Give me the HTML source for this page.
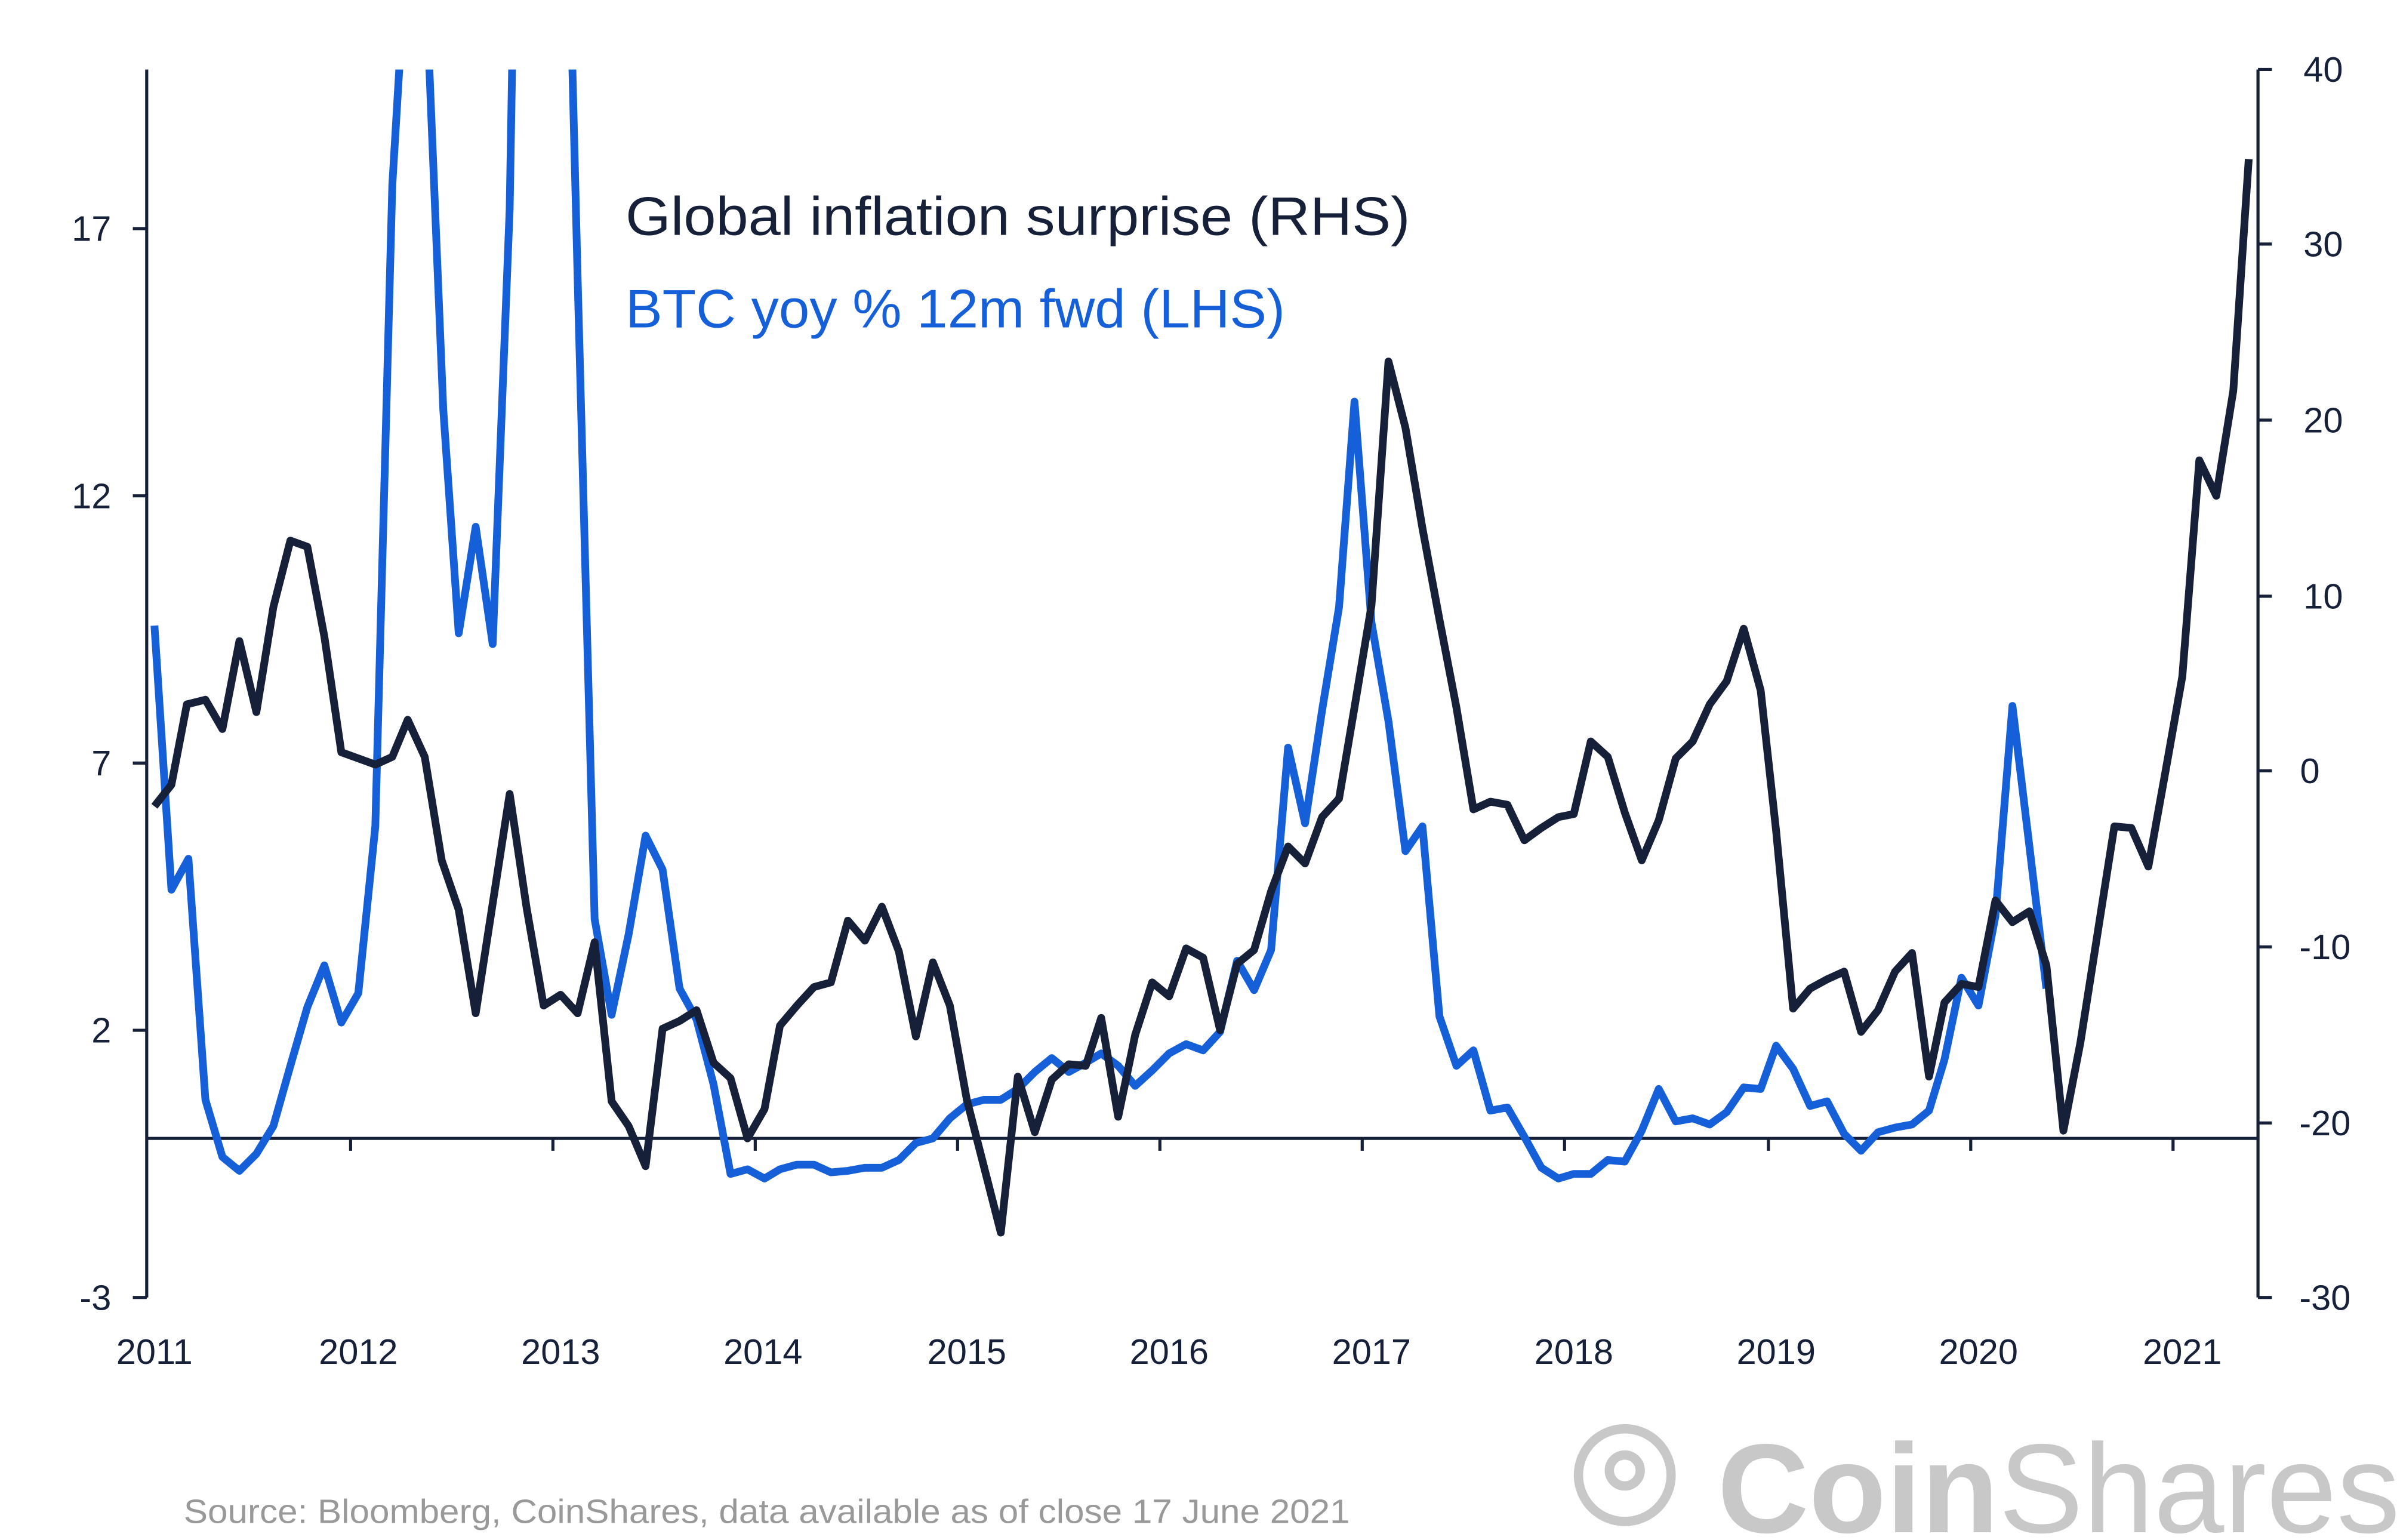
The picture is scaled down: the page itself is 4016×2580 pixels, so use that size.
<!DOCTYPE html>
<html><head><meta charset="utf-8"><style>
html,body{margin:0;padding:0;background:#fff;}
svg{display:block;}
text{font-family:"Liberation Sans",sans-serif;}
</style></head><body>
<svg width="4016" height="2580" viewBox="0 0 1552 997" preserveAspectRatio="none" xmlns="http://www.w3.org/2000/svg">
<defs><clipPath id="c"><rect x="90" y="45" width="1380" height="800"/></clipPath></defs>
<rect width="1552" height="997" fill="#fff"/>
<g stroke="#162039" stroke-width="2" fill="none">
<line x1="95" y1="45" x2="95" y2="840"/>
<line x1="1462" y1="45" x2="1462" y2="840"/>
<line x1="95" y1="737" x2="1462" y2="737"/>
<line x1="86" y1="148" x2="95" y2="148"/><line x1="86" y1="321" x2="95" y2="321"/><line x1="86" y1="494" x2="95" y2="494"/><line x1="86" y1="667" x2="95" y2="667"/><line x1="86" y1="840" x2="95" y2="840"/>
<line x1="1462" y1="45" x2="1471" y2="45"/><line x1="1462" y1="158" x2="1471" y2="158"/><line x1="1462" y1="272" x2="1471" y2="272"/><line x1="1462" y1="386" x2="1471" y2="386"/><line x1="1462" y1="499" x2="1471" y2="499"/><line x1="1462" y1="613" x2="1471" y2="613"/><line x1="1462" y1="727" x2="1471" y2="727"/><line x1="1462" y1="840" x2="1471" y2="840"/>
<line x1="227" y1="737" x2="227" y2="745"/><line x1="358" y1="737" x2="358" y2="745"/><line x1="489" y1="737" x2="489" y2="745"/><line x1="620" y1="737" x2="620" y2="745"/><line x1="751" y1="737" x2="751" y2="745"/><line x1="882" y1="737" x2="882" y2="745"/><line x1="1013" y1="737" x2="1013" y2="745"/><line x1="1145" y1="737" x2="1145" y2="745"/><line x1="1276" y1="737" x2="1276" y2="745"/><line x1="1407" y1="737" x2="1407" y2="745"/>
</g>
<g fill="#162039" font-size="23">
<text x="72" y="156" text-anchor="end">17</text><text x="72" y="329" text-anchor="end">12</text><text x="72" y="502" text-anchor="end">7</text><text x="72" y="675" text-anchor="end">2</text><text x="72" y="848" text-anchor="end">-3</text>
<g text-anchor="end"><text x="1517" y="53">40</text><text x="1517" y="166">30</text><text x="1517" y="280">20</text><text x="1517" y="394">10</text><text x="1502" y="507">0</text><text x="1522" y="621">-10</text><text x="1522" y="735">-20</text><text x="1522" y="848">-30</text></g>
<g text-anchor="middle"><text x="100" y="883">2011</text><text x="232" y="883">2012</text><text x="363" y="883">2013</text><text x="494" y="883">2014</text><text x="626" y="883">2015</text><text x="757" y="883">2016</text><text x="888" y="883">2017</text><text x="1019" y="883">2018</text><text x="1150" y="883">2019</text><text x="1281" y="883">2020</text><text x="1413" y="883">2021</text></g>
</g>
<g clip-path="url(#c)" fill="none" stroke-width="5" stroke-linejoin="round">
<polyline stroke="#1560d8" points="100,405 111,576 122,556 133,712 144,749 155,758 166,747 177,729 188,690 199,652 210,625 221,662 232,643 243,535 254,120 260,20 277,20 287,265 297,410 308,341 319,417 330,135 332,20 370,20 374,180 385,595 396,657 407,605 418,541 429,563 440,640 451,660 462,702 473,760 484,757 495,763 505,757 516,754 527,754 538,759 549,758 560,756 571,756 582,751 593,740 604,737 615,724 626,715 637,712 648,712 659,705 670,694 681,685 692,694 703,688 713,682 724,690 735,703 746,693 757,682 768,676 779,680 790,668 801,622 812,641 823,615 834,484 845,533 856,460 867,393 877,260 888,403 899,467 910,551 921,535 932,658 943,690 954,680 965,719 976,717 987,736 998,756 1009,763 1019,760 1030,760 1041,751 1052,752 1063,732 1074,705 1085,726 1096,724 1107,728 1118,720 1129,704 1140,705 1150,677 1161,692 1172,716 1183,713 1194,734 1205,745 1216,733 1227,730 1238,728 1249,719 1259,686 1270,633 1281,651 1292,593 1303,457 1314,548 1325,640"/>
<polyline stroke="#162039" points="100,522 111,508 121,456 133,453 144,472 155,415 166,461 177,393 188,350 199,354 210,412 221,487 232,491 243,495 254,490 264,466 275,490 286,557 297,589 308,656 319,585 330,514 341,588 352,651 363,644 374,656 385,610 396,713 407,729 418,755 429,666 440,661 451,654 462,688 473,698 484,737 495,718 505,664 516,651 527,639 538,636 549,596 560,609 571,587 582,616 593,671 604,623 615,651 626,712 637,755 648,798 659,697 670,733 681,699 692,689 703,690 713,659 724,723 735,670 746,636 757,645 768,614 779,620 790,667 801,624 812,615 823,577 834,548 845,559 856,529 867,517 877,458 888,392 899,234 910,277 921,342 932,401 943,458 954,524 965,519 976,521 987,544 998,536 1009,529 1019,527 1030,480 1041,490 1052,526 1063,557 1074,531 1085,491 1096,480 1107,456 1118,441 1129,407 1140,447 1150,538 1161,653 1172,640 1183,634 1194,629 1205,668 1216,654 1227,629 1238,617 1249,697 1259,649 1270,637 1281,639 1292,583 1303,597 1314,590 1325,625 1336,732 1347,675 1358,605 1369,535 1380,536 1391,561 1402,500 1413,438 1424,298 1435,321 1446,253 1456,103"/>
</g>
<text x="405" y="152" font-size="35" fill="#162039" textLength="508" lengthAdjust="spacingAndGlyphs">Global inflation surprise (RHS)</text>
<text x="405" y="212" font-size="35" fill="#1560d8" textLength="427" lengthAdjust="spacingAndGlyphs">BTC yoy % 12m fwd (LHS)</text>
<text x="119" y="986" font-size="22" fill="#999" textLength="755" lengthAdjust="spacingAndGlyphs">Source: Bloomberg, CoinShares, data available as of close 17 June 2021</text>
<g fill="none" stroke="#c8c8c8" stroke-width="6"><circle cx="1052" cy="955" r="30"/><circle cx="1052" cy="952" r="10"/></g>
<text x="1112" y="992" font-size="82" font-weight="bold" fill="#c8c8c8">Coin<tspan font-weight="normal">Shares</tspan></text>
</svg>
</body></html>
